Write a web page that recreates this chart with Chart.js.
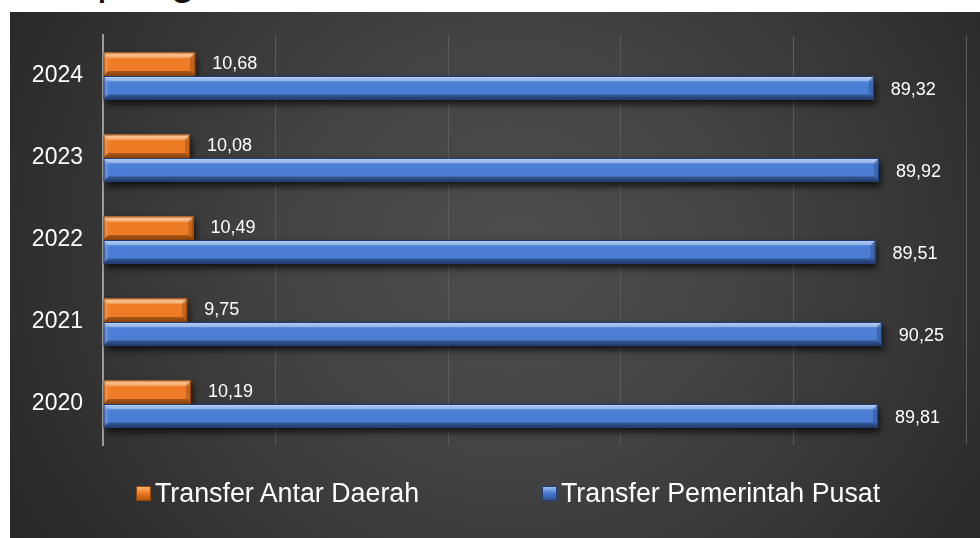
<!DOCTYPE html>
<html>
<head>
<meta charset="utf-8">
<script src="https://cdn.jsdelivr.net/npm/chart.js@4.4.1/dist/chart.umd.min.js"></script>
<style>
    html, body { margin: 0; padding: 0; background: #fff; }
    body { width: 980px; height: 538px; position: relative; overflow: hidden; font-family: "Liberation Sans", Arial, sans-serif; }
    .heading { position: absolute; left: 97px; top: -43px; font-size: 44px; line-height: 44px; color: #111; white-space: nowrap; }
    .panel {
        position: absolute; left: 10px; top: 12px; width: 970px; height: 526px;
        background: radial-gradient(ellipse 65% 110% at 52% 45%, #4d4d4d 0%, #444 35%, #242424 100%);
    }
    .panel canvas { position: absolute; left: 0; top: 0; }
    .legend-item { position: absolute; top: 466px; color: #fff; font-size: 26.8px; line-height: 30px; white-space: nowrap; }
    .legend-item .swatch { position: absolute; top: 8px; width: 13px; height: 13px; }
</style>
</head>
<body>
<div class="heading">pang</div>
<div class="panel">
    <canvas id="chart" width="970" height="526"></canvas>
    <div id="legend"></div>
</div>
<script>
    const years = ['2024', '2023', '2022', '2021', '2020'];
    const seriesNames = ['Transfer Antar Daerah', 'Transfer Pemerintah Pusat'];
    const antarDaerah = [10.68, 10.08, 10.49, 9.75, 10.19];
    const pemerintahPusat = [89.32, 89.92, 89.51, 90.25, 89.81];
    const xTicks = [0, 20, 40, 60, 80, 100];

    const tones = [
        { light: '#fbb574', mid: '#ee7b25', dark: '#b9560f', edge: '#8f4208' },
        { light: '#9bbdf3', mid: '#4a7dd3', dark: '#2d5297', edge: '#213d73' }
    ];

    const fmt = v => v.toFixed(2).replace('.', ',');

    // beveled bar faces painted over the library's bar rectangles
    function bevel(ctx, left, top, right, bottom, tone) {
        const w = right - left, h = bottom - top;
        const b = Math.min(5, h / 4, w / 2);
        const g = ctx.createLinearGradient(0, top, 0, bottom);
        g.addColorStop(0, tone.light);
        g.addColorStop(0.3, tone.mid);
        g.addColorStop(0.78, tone.mid);
        g.addColorStop(1, tone.dark);
        ctx.fillStyle = g;
        ctx.fillRect(left, top, w, h);

        const face = (pts, color) => {
            ctx.beginPath();
            ctx.moveTo(pts[0], pts[1]);
            for (let i = 2; i < pts.length; i += 2) ctx.lineTo(pts[i], pts[i + 1]);
            ctx.closePath();
            ctx.fillStyle = color;
            ctx.fill();
        };
        face([left, top, right, top, right - b, top + b, left + b, top + b], 'rgba(255,255,255,0.30)');
        face([left, bottom, right, bottom, right - b, bottom - b, left + b, bottom - b], 'rgba(0,0,0,0.28)');
        face([left, top, left + b, top + b, left + b, bottom - b, left, bottom], 'rgba(255,255,255,0.12)');
        face([right, top, right - b, top + b, right - b, bottom - b, right, bottom], 'rgba(0,0,0,0.18)');

        ctx.strokeStyle = tone.edge;
        ctx.lineWidth = 1;
        ctx.strokeRect(left + 0.5, top + 0.5, w - 1, h - 1);
    }

    const barStyle = {
        id: 'barStyle',
        beforeDatasetsDraw(chart) {
            const ctx = chart.ctx;
            ctx.save();
            ctx.shadowColor = 'rgba(0,0,0,0.75)';
            ctx.shadowBlur = 7;
            ctx.shadowOffsetX = 2;
            ctx.shadowOffsetY = 4;
        },
        afterDatasetsDraw(chart) {
            const ctx = chart.ctx;
            ctx.restore();
            chart.data.datasets.forEach((ds, di) => {
                const meta = chart.getDatasetMeta(di);
                meta.data.forEach((bar, i) => {
                    const p = bar.getProps(['x', 'y', 'base', 'height'], true);
                    const left = Math.min(p.base, p.x), right = Math.max(p.base, p.x);
                    bevel(ctx, left, p.y - p.height / 2, right, p.y + p.height / 2, tones[di]);

                    ctx.save();
                    ctx.fillStyle = '#fff';
                    ctx.font = '18px "Liberation Sans", Arial, sans-serif';
                    ctx.textAlign = 'left';
                    ctx.textBaseline = 'middle';
                    ctx.fillText(fmt(ds.data[i]), right + 17, p.y + (di === 1 ? 2 : 0));
                    ctx.restore();
                });
            });
        }
    };

    const chart = new Chart(document.getElementById('chart'), {
        type: 'bar',
        data: {
            labels: years,
            datasets: [
                { label: seriesNames[0], data: antarDaerah, backgroundColor: tones[0].mid },
                { label: seriesNames[1], data: pemerintahPusat, backgroundColor: tones[1].mid }
            ]
        },
        options: {
            indexAxis: 'y',
            responsive: false,
            animation: false,
            categoryPercentage: 0.575,
            barPercentage: 1,
            layout: { padding: { left: 20, top: 23, right: 14, bottom: 93 } },
            scales: {
                x: {
                    min: xTicks[0],
                    max: xTicks[xTicks.length - 1],
                    afterBuildTicks: scale => { scale.ticks = xTicks.map(v => ({ value: v })); },
                    afterFit: scale => { scale.height = 0; scale.paddingLeft = 0; scale.paddingRight = 0; },
                    ticks: { display: false },
                    grid: {
                        drawTicks: false,
                        color: ctx => ctx.tick && ctx.tick.value === 0 ? 'rgba(0,0,0,0)' : '#5b5b5b',
                        lineWidth: 1
                    },
                    border: { display: false }
                },
                y: {
                    afterFit: scale => { scale.width = 73; scale.paddingTop = 0; scale.paddingBottom = 0; },
                    grid: { display: false, drawTicks: false },
                    border: { display: true, color: '#9a9a9a', width: 2 },
                    ticks: {
                        color: '#fff',
                        padding: 20,
                        font: { family: '"Liberation Sans", Arial, sans-serif', size: 23 }
                    }
                }
            },
            plugins: {
                legend: { display: false },
                tooltip: { enabled: false }
            }
        },
        plugins: [barStyle]
    });

    // legend row under the plot
    const legendEl = document.getElementById('legend');
    const legendLeft = [126, 532];
    chart.data.datasets.forEach((ds, i) => {
        const item = document.createElement('div');
        item.className = 'legend-item';
        item.style.left = legendLeft[i] + 'px';
        item.style.paddingLeft = '19px';
        const t = tones[i];
        item.innerHTML = `<span class="swatch" style="left:0;background:linear-gradient(${t.light},${t.mid} 45%,${t.dark});border:1px solid ${t.edge}"></span>${ds.label}`;
        legendEl.appendChild(item);
    });
</script>
</body>
</html>
